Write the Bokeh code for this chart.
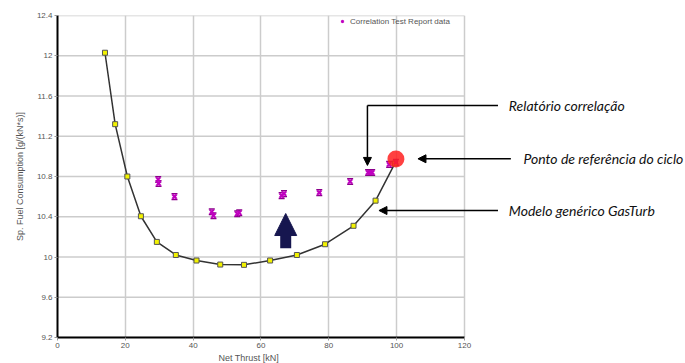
from bokeh.plotting import figure
from bokeh.models import (Range1d, FixedTicker, CustomJSTickFormatter, Arrow, NormalHead, TeeHead,
                          Legend, LegendItem, ColumnDataSource, Whisker, Title)
from bokeh.core.properties import value
from bokeh.embed import file_html
from bokeh.resources import INLINE

# ---- data ----
model_thrust = [14.0, 17.0, 20.6, 24.6, 29.3, 34.9, 41.0, 48.0, 55.0, 62.7, 70.6, 78.9, 87.3, 93.8, 99.5]
model_sfc = [12.03, 11.32, 10.80, 10.405, 10.15, 10.02, 9.965, 9.925, 9.922, 9.965, 10.02, 10.127, 10.31, 10.56, 10.93]

test_thrust = [29.7, 29.8, 34.5, 45.5, 46.0, 53.0, 53.6, 66.1, 66.8, 77.2, 86.3, 91.6, 92.2, 92.8, 97.8, 99.8]
test_sfc = [10.77, 10.73, 10.60, 10.45, 10.41, 10.43, 10.44, 10.61, 10.63, 10.64, 10.75, 10.84, 10.84, 10.84, 10.92, 10.94]

ref_thrust = [99.8]
ref_sfc = [10.975]

x_ticks = [0, 20, 40, 60, 80, 100, 120]
y_ticks = [9.2, 9.6, 10.0, 10.4, 10.8, 11.2, 11.6, 12.0, 12.4]

legend_label = "Correlation Test Report data"
x_title = "Net Thrust [kN]"
y_title = "Sp. Fuel Consumption [g/(kN*s)]"
note_texts = ["Relatório correlação", "Ponto de referência do ciclo", "Modelo genérico GasTurb"]

# ---- layout constants (pixels / view extents) ----
W, H = 685, 363
LEFT, TOP, BOTTOM = 57, 15, 26
X_VIEW_MAX = 185.2          # frame runs to the right edge, annotations live beyond x=120

p = figure(width=W, height=H, output_backend="svg", toolbar_location=None,
           x_range=Range1d(0, X_VIEW_MAX), y_range=Range1d(y_ticks[0], y_ticks[-1]),
           min_border_left=LEFT, min_border_top=TOP, min_border_right=0, min_border_bottom=BOTTOM)
p.outline_line_color = None
p.background_fill_color = "white"

for ax in (p.xaxis[0], p.yaxis[0]):
    ax.axis_line_color = "black"
    ax.axis_line_width = 2
    ax.major_tick_out = 3
    ax.major_tick_in = 0
    ax.major_tick_line_color = "#999999"
    ax.minor_tick_line_color = None
    ax.major_label_text_font = "Liberation Sans"
    ax.major_label_text_font_size = "8px"
    ax.major_label_text_color = "#555555"
    ax.axis_label_text_font = "Liberation Sans"
    ax.axis_label_text_font_size = "9px"
    ax.axis_label_text_font_style = "normal"
    ax.axis_label_text_color = "#555555"
    ax.major_label_standoff = 2
    ax.axis_label_standoff = 2

p.yaxis.axis_label_standoff = 9
p.xaxis.ticker = FixedTicker(ticks=x_ticks)
p.xaxis.bounds = (x_ticks[0], x_ticks[-1])
p.yaxis.ticker = FixedTicker(ticks=y_ticks)
p.yaxis.formatter = CustomJSTickFormatter(code="return String(+tick.toFixed(1));")
p.yaxis.axis_label = y_title

p.add_layout(Title(text=x_title, align="left", offset=161, standoff=0,
                   text_font="Liberation Sans", text_font_size="9px", text_font_style="normal",
                   text_color="#555555"), "below")

# grid
p.xgrid.grid_line_color = "#cccccc"
p.xgrid.grid_line_width = 1.5
p.ygrid.grid_line_color = None
p.segment(x0=[x_ticks[0]] * len(y_ticks), x1=[x_ticks[-1]] * len(y_ticks), y0=y_ticks, y1=y_ticks,
          line_color="#cccccc", line_width=1.5, level="underlay")

# model curve
p.line(model_thrust, model_sfc, line_color="#333333", line_width=1.5)
p.scatter(model_thrust, model_sfc, marker="square", size=5,
          fill_color="#f2f200", line_color="#555555", line_width=1)

# test data: hourglass-like markers (x with caps)
cap = 0.028
tsrc = ColumnDataSource(dict(x=test_thrust, y=test_sfc,
                             lo=[v - cap for v in test_sfc], hi=[v + cap for v in test_sfc]))
p.add_layout(Whisker(source=tsrc, base="x", lower="lo", upper="hi", dimension="height",
                     line_alpha=0,
                     lower_head=TeeHead(size=6, line_color="#8a008a", line_width=1.5),
                     upper_head=TeeHead(size=6, line_color="#8a008a", line_width=1.5)))
tr = p.scatter("x", "y", source=tsrc, marker="x", size=6, line_color="#c000c0", line_width=2)

# reference point
p.scatter(ref_thrust, ref_sfc, marker="circle", size=17,
          fill_color="#ff2020", fill_alpha=0.85, line_color=None)

# legend
leg = Legend(items=[LegendItem(label=legend_label, renderers=[tr])], location=(279, 309),
             background_fill_alpha=0, border_line_alpha=0, margin=0, padding=2,
             glyph_width=8, glyph_height=8, label_standoff=4, spacing=0,
             label_text_font="Liberation Sans", label_text_font_size="8px",
             label_text_color="#555555", label_height=10)
p.add_layout(leg)

# blue block arrow
p.add_layout(Arrow(x_start=67.3, y_start=10.087, x_end=67.3, y_end=10.432,
                   line_color="#16164f", line_width=11,
                   end=NormalHead(size=22, fill_color="#16164f", line_color="#16164f")))

# annotations
def head():
    return NormalHead(size=8, fill_color="black", line_color="black")

p.add_layout(Arrow(x_start=129.9, y_start=11.505, x_end=91.4, y_end=11.505,
                   end=None, line_color="black", line_width=1.5))
p.add_layout(Arrow(x_start=91.4, y_start=11.505, x_end=91.4, y_end=10.91,
                   end=head(), line_color="black", line_width=1.5))
p.add_layout(Arrow(x_start=133.7, y_start=10.976, x_end=106.3, y_end=10.976,
                   end=head(), line_color="black", line_width=1.5))
p.add_layout(Arrow(x_start=129.9, y_start=10.462, x_end=94.8, y_end=10.462,
                   end=head(), line_color="black", line_width=1.5))

p.text(x=[133.1, 137.4, 133.1], y=[11.505, 10.976, 10.462], text=note_texts,
       text_font=value("Lato"), text_font_style="italic", text_font_size="14px",
       text_color="#111111", text_baseline="middle", text_align="left")

open("out.html", "w").write(file_html(p, INLINE))
